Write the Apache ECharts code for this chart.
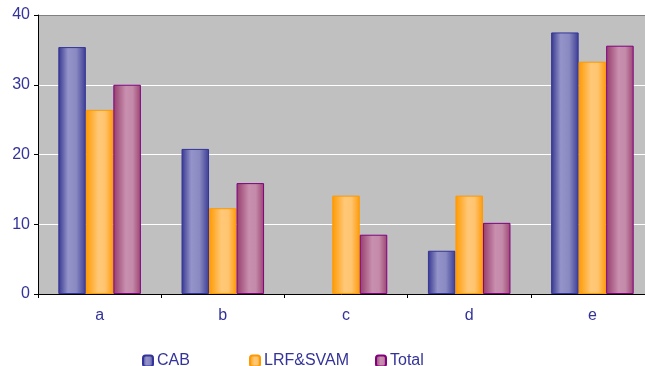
<!DOCTYPE html>
<html>
<head>
<meta charset="utf-8">
<script src="https://cdn.jsdelivr.net/npm/echarts@6/dist/echarts.min.js"></script>
<style>
  html, body { margin: 0; padding: 0; background: #fff; }
  #chart { width: 645px; height: 366px; }
</style>
</head>
<body>
<div id="chart"></div>
<script>
const categories = ['a', 'b', 'c', 'd', 'e'];
const cabValues = [35.4, 20.8, 0, 6.2, 37.5];
const lrfValues = [26.4, 12.3, 14.1, 14.1, 33.3];
const totalValues = [30.0, 15.9, 8.5, 10.2, 35.6];
const yTicks = [0, 10, 20, 30, 40];

const textColor = '#333399';
const font = '"Liberation Sans", Arial, sans-serif';

function hGrad(stops) {
  return new echarts.graphic.LinearGradient(0, 0, 1, 0,
    stops.map(([offset, color]) => ({ offset, color })));
}

const cabFill = hGrad([[0, '#36368f'], [0.35, '#9494ca'], [0.65, '#8a8ac2'], [1, '#3c3c95']]);
const lrfFill = hGrad([[0, '#ff9900'], [0.45, '#ffc878'], [0.7, '#ffc470'], [1, '#ff9a08']]);
const totalFill = hGrad([[0, '#963c6c'], [0.45, '#c88fae'], [0.7, '#c48aa9'], [1, '#9c4472']]);

// zero-height bars get no outline, so nothing shows for them
function barData(values) {
  return values.map(v => v === 0 ? { value: v, itemStyle: { borderWidth: 0 } } : v);
}

const chart = echarts.init(document.getElementById('chart'));

const legendBase = {
  top: 348,
  itemWidth: 10,
  itemHeight: 11,
  itemGap: 6,
  textStyle: { color: textColor, fontFamily: font, fontSize: 16, padding: [0, 0, 0, -1] }
};

chart.setOption({
  animation: false,
  grid: {
    left: 38, top: 15, width: 616, height: 279,
    outerBoundsMode: 'none',
    containLabel: false,
    show: true, backgroundColor: '#c0c0c0', borderWidth: 0
  },
  legend: [
    Object.assign({}, legendBase, { left: 137, data: ['CAB'] }),
    Object.assign({}, legendBase, { left: 244, data: ['LRF&SVAM'] }),
    Object.assign({}, legendBase, { left: 370, data: ['Total'] })
  ],
  xAxis: {
    type: 'category',
    data: categories,
    axisLine: { lineStyle: { color: '#000', width: 1 } },
    axisTick: { show: true, length: 4, lineStyle: { color: '#000' } },
    axisLabel: { color: textColor, fontFamily: font, fontSize: 16, margin: 14 }
  },
  yAxis: {
    type: 'value',
    min: yTicks[0],
    max: yTicks[yTicks.length - 1],
    interval: 10,
    axisLine: { show: true, lineStyle: { color: '#000', width: 1 } },
    axisTick: { show: true, length: 4, lineStyle: { color: '#000' } },
    axisLabel: { color: textColor, fontFamily: font, fontSize: 16, margin: 8 },
    splitLine: {
      show: true,
      lineStyle: { color: ['#ffffff', '#ffffff', '#ffffff', '#ffffff', '#808080'], width: 1 }
    }
  },
  series: [
    {
      name: 'CAB', type: 'bar', data: barData(cabValues),
      barGap: '0%', barCategoryGap: '33%',
      itemStyle: { color: cabFill, borderColor: '#333399', borderWidth: 1 }
    },
    {
      name: 'LRF&SVAM', type: 'bar', data: barData(lrfValues),
      itemStyle: { color: lrfFill, borderColor: '#ff9900', borderWidth: 1 }
    },
    {
      name: 'Total', type: 'bar', data: barData(totalValues),
      itemStyle: { color: totalFill, borderColor: '#800080', borderWidth: 1 }
    }
  ]
});
</script>
</body>
</html>
